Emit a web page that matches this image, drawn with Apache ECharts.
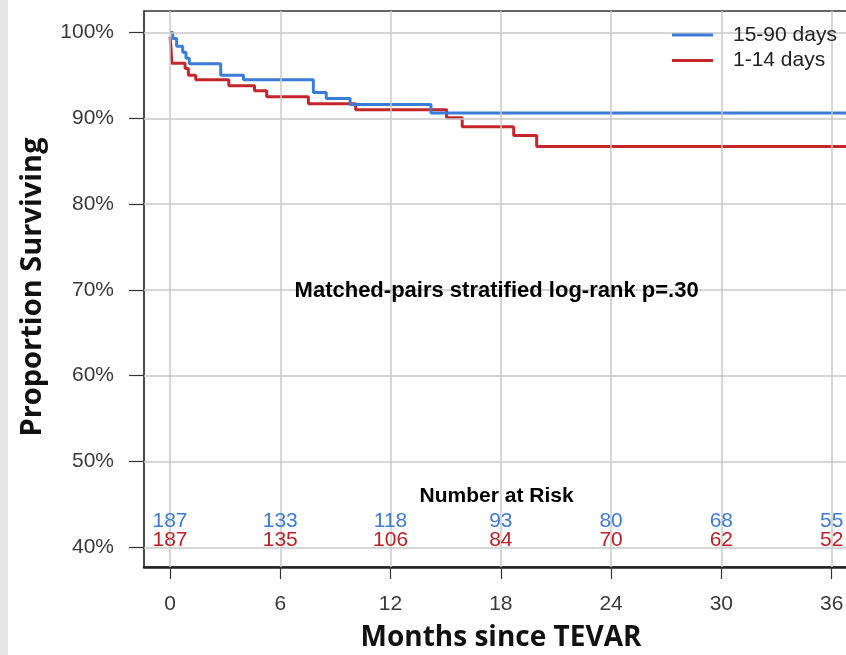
<!DOCTYPE html>
<html>
<head>
<meta charset="utf-8">
<script src="https://cdn.jsdelivr.net/npm/echarts@6/dist/echarts.min.js"></script>
<style>
  html, body { margin: 0; padding: 0; background: #fff; }
</style>
</head>
<body>
<div id="km" style="width: 846px; height: 655px;"></div>
<script>
  // step data (months, % surviving)
  const blueTime = [0, 0.15, 0.36, 0.69, 0.87, 1.05, 2.76, 4.0, 7.8, 8.5, 9.8, 14.2, 37.9]
  const blueSurv = [100, 99.3, 98.4, 97.7, 97.0, 96.35, 95.0, 94.5, 93.0, 92.3, 91.6, 90.6, 90.6]
  const redTime = [0, 0.05, 0.1, 0.82, 1.0, 1.4, 3.2, 4.6, 5.26, 7.53, 10.1, 15.05, 15.9, 18.7, 19.95, 37.9]
  const redSurv = [99.5, 98.3, 96.4, 95.8, 95.0, 94.5, 93.8, 93.2, 92.5, 91.7, 91.0, 90.05, 89.0, 88.0, 86.7, 86.7]

  const monthTicks = [0, 6, 12, 18, 24, 30, 36]
  const pctTicks = [40, 50, 60, 70, 80, 90, 100]
  const riskBlue = [187, 133, 118, 93, 80, 68, 55]
  const riskRed = [187, 135, 106, 84, 70, 62, 52]

  const blueColor = '#3b7cd6'
  const redColor = '#c4262c'

  let myChart = echarts.init(document.getElementById('km'))

  const zip = (xs, ys) => xs.map((x, i) => [x, ys[i]])

  let option = {
    animation: false,
    backgroundColor: '#fff',
    grid: {
      left: 144, top: 11, bottom: 88, width: 722,
      outerBoundsMode: 'none', containLabel: false,
      show: true, borderColor: '#333', borderWidth: 1.5
    },
    legend: {
      data: ['15-90 days', '1-14 days'],
      orient: 'vertical',
      left: 672, top: 24.5, padding: 0, z: 10,
      icon: 'rect',
      itemWidth: 41, itemHeight: 3, itemGap: 4.4,
      textStyle: { color: '#222', fontFamily: 'Liberation Sans', fontSize: 21, padding: [0, 0, 0, 15] }
    },
    xAxis: {
      type: 'value', min: -1.415, max: 37.87,
      splitLine: { show: false },
      axisLine: { show: true, onZero: false, lineStyle: { color: '#222', width: 2.5 } },
      axisTick: { show: true, inside: false, customValues: monthTicks, length: 12, lineStyle: { color: '#333', width: 1.2 } },
      axisLabel: { customValues: monthTicks, margin: 27, color: '#3a3a3a', fontFamily: 'Liberation Sans', fontSize: 21 }
    },
    yAxis: {
      type: 'value', min: 37.7, max: 102.5,
      splitLine: { show: false },
      axisLine: { show: true, onZero: false, lineStyle: { color: '#444', width: 1.5 } },
      axisTick: { show: true, inside: false, customValues: pctTicks, length: 15, lineStyle: { color: '#333', width: 1.2 } },
      axisLabel: { customValues: pctTicks, margin: 30, color: '#3a3a3a', fontFamily: 'Liberation Sans', fontSize: 21,
        formatter: v => v + '%' }
    },
    series: [
      {
        // grid lines
        type: 'line', data: [], z: 1, silent: true,
        markLine: {
          symbol: 'none', silent: true, animation: false,
          label: { show: false },
          lineStyle: { color: '#c9c9c9', width: 1.5, type: 'solid' },
          data: monthTicks.map(t => ({ xAxis: t })).concat(pctTicks.map(p => ({ yAxis: p })))
        }
      },
      {
        name: '15-90 days', type: 'line', step: 'end', z: 4,
        data: zip(blueTime, blueSurv),
        symbol: 'none', color: blueColor,
        lineStyle: { color: blueColor, width: 3 }
      },
      {
        name: '1-14 days', type: 'line', step: 'end', z: 3,
        data: zip(redTime, redSurv),
        symbol: 'none', color: redColor,
        lineStyle: { color: redColor, width: 3 }
      }
    ]
  }
  myChart.setOption(option)

  // text placed through the chart's own scales
  const at = (x, y) => myChart.convertToPixel({ gridIndex: 0 }, [x, y])
  const label = (x, y, txt, font, fill) => {
    const p = at(x, y)
    return { type: 'text', x: p[0], y: p[1], z: 20, silent: true,
      style: { text: txt, font: font, fill: fill, align: 'center', verticalAlign: 'middle' } }
  }
  let texts = [
    { type: 'rect', left: 0, top: 0, shape: { width: 8, height: 655 }, style: { fill: '#e6e6e6' }, silent: true },
    { type: 'text', x: 33, y: 287, rotation: Math.PI / 2,
      style: { text: 'Proportion Surviving', fill: '#111', font: 'bold 29px "Open Sans"', align: 'center', verticalAlign: 'middle' } },
    { type: 'text', x: 501, y: 638,
      style: { text: 'Months since TEVAR', fill: '#111', font: 'bold 28px "Open Sans"', align: 'center', verticalAlign: 'middle' } },
    label(17.77, 69.9, 'Matched-pairs stratified log-rank p=.30', 'bold 22px "Liberation Sans"', '#000'),
    label(17.77, 45.95, 'Number at Risk', 'bold 21px "Liberation Sans"', '#000')
  ]
  monthTicks.forEach((t, i) => {
    texts.push(label(t, 43.0, String(riskBlue[i]), '21px "Liberation Sans"', '#3f7bd3'))
    texts.push(label(t, 40.85, String(riskRed[i]), '21px "Liberation Sans"', '#bb1f25'))
  })
  myChart.setOption({ graphic: texts })
</script>
</body>
</html>
